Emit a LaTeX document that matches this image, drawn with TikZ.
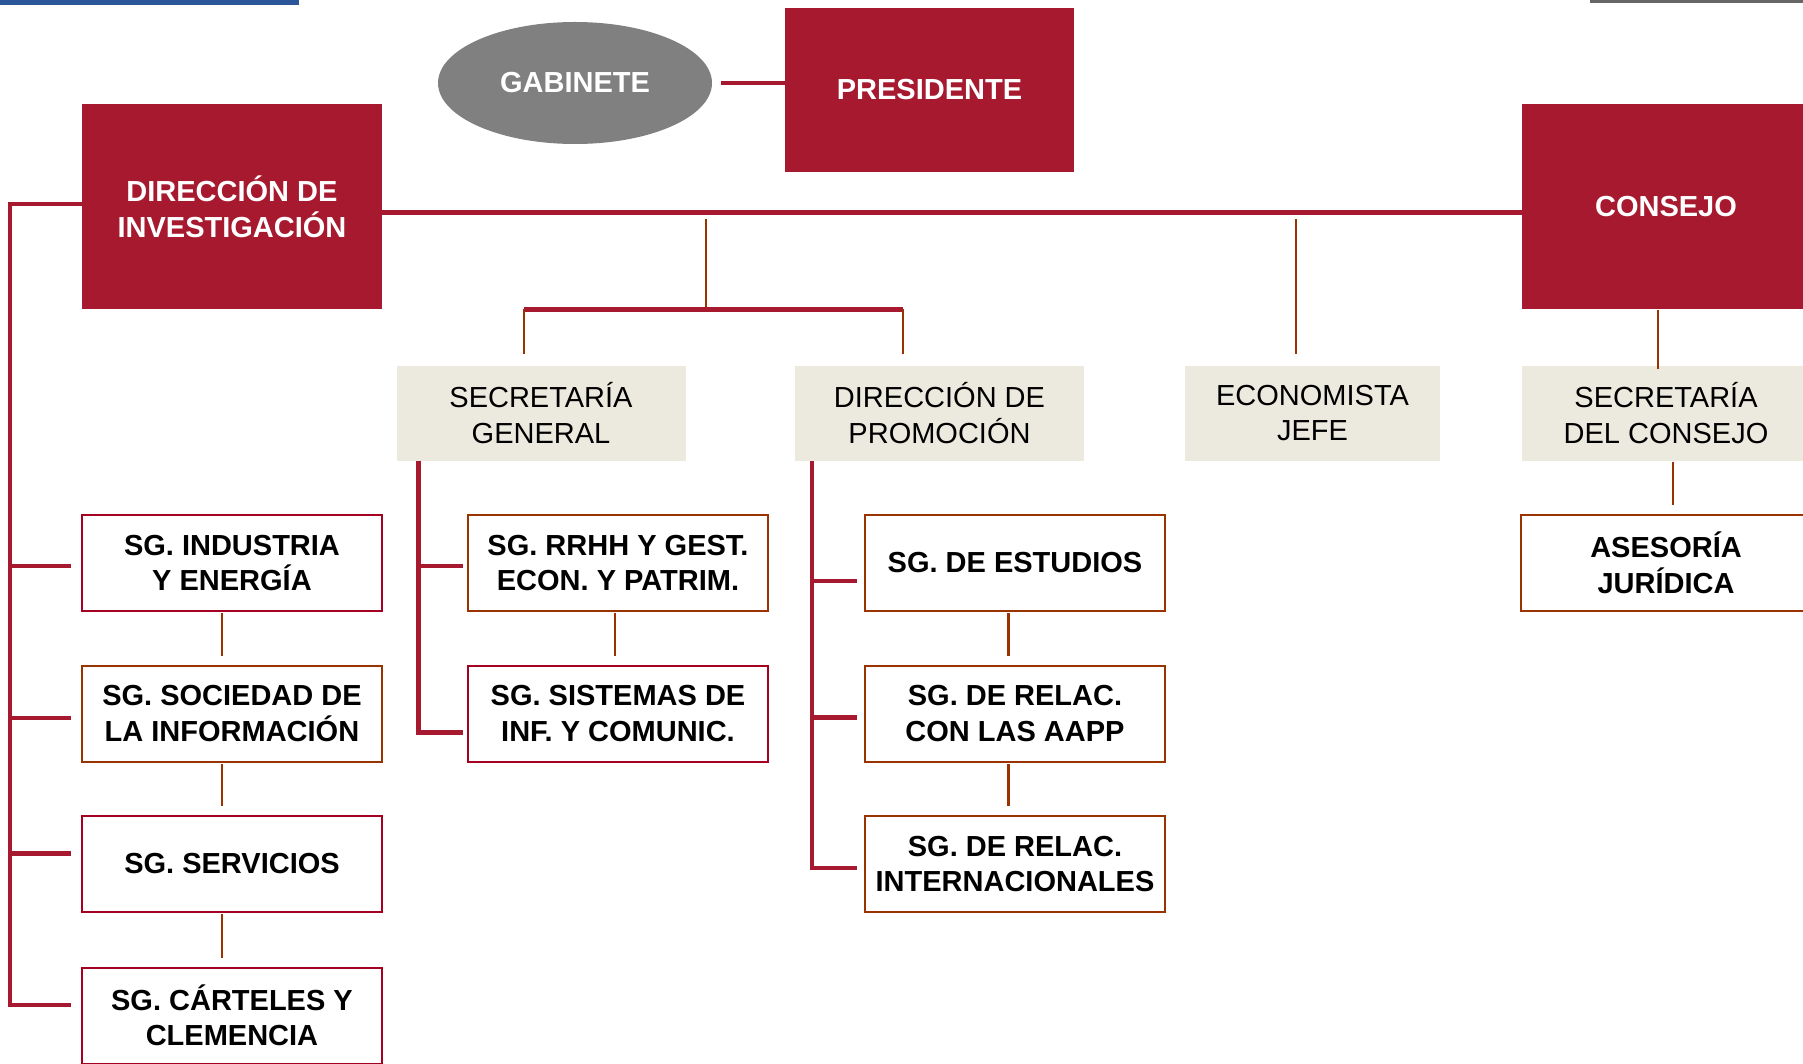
\documentclass[tikz,border=0pt]{standalone}
\usepackage{fontspec}
\setmainfont{Liberation Sans}
\usetikzlibrary{shapes.geometric,calc}
\definecolor{crim}{HTML}{A6192E}
\definecolor{crimb}{HTML}{A50021}
\definecolor{brn}{HTML}{993300}
\definecolor{beige}{HTML}{ECEADF}
\definecolor{gabgray}{HTML}{808080}
\definecolor{topblue}{HTML}{2B579A}
\definecolor{topgray}{HTML}{666666}
\begin{document}
\begin{tikzpicture}[x=1pt,y=-1pt,
  every node/.style={inner sep=0pt, align=center, font=\fontsize{29}{35.5}\selectfont},
  redbox/.style={rectangle, fill=crim, text=white, font=\fontsize{29}{35.5}\selectfont\bfseries},
  beigebox/.style={rectangle, fill=beige, text=black, minimum height=95pt},
  sgbox/.style={rectangle, draw=#1, line width=2pt, fill=white, text=black,
    font=\fontsize{29}{35.5}\selectfont\bfseries, minimum width=300pt, minimum height=96pt},
  thickl/.style={draw=crim, line width=5pt},
  busl/.style={draw=crim, line width=4.5pt},
  thinl/.style={draw=brn, line width=2.5pt}]
\useasboundingbox (0,0) rectangle (1803,1064);
\clip (0,0) rectangle (1803,1064);
\fill[white] (0,0) rectangle (1803,1064);
% top decorations
\fill[topblue] (0,0) rectangle (299,5);
\fill[topgray] (1590,0) rectangle (1803,3);
% head nodes
\node[ellipse, fill=gabgray, text=white, font=\fontsize{29}{35.5}\selectfont\bfseries,
  minimum width=274pt, minimum height=122pt] (gab) at (575,83) {GABINETE};
\node[redbox, minimum width=289pt, minimum height=164pt] (pres) at (929.5,90) {PRESIDENTE};
\node[redbox, minimum width=300pt, minimum height=205pt] (dinv) at (232,207) {DIRECCIÓN DE\\INVESTIGACIÓN};
\node[redbox, minimum width=288pt, minimum height=205pt] (cons) at (1666,207) {CONSEJO};
% beige nodes
\node[beigebox, minimum width=289pt] (sgen) at (541,413) {SECRETARÍA\\GENERAL};
\node[beigebox, minimum width=289pt] (dprom) at (939.5,413) {DIRECCIÓN DE\\PROMOCIÓN};
\node[beigebox, minimum width=255pt] (econ) at (1312.5,413) {ECONOMISTA\\JEFE};
\node[beigebox, minimum width=288pt] (scons) at (1666,413) {SECRETARÍA\\DEL CONSEJO};
% sub units
\node[sgbox=crimb] (ind) at (232,563) {SG. INDUSTRIA\\Y ENERGÍA};
\node[sgbox=brn] (soc) at (232,713.5) {SG. SOCIEDAD DE\\LA INFORMACIÓN};
\node[sgbox=crimb] (serv) at (232,864) {SG. SERVICIOS};
\node[sgbox=crimb] (cart) at (232,1015.5) {SG. CÁRTELES Y\\CLEMENCIA};
\node[sgbox=brn] (rrhh) at (618,563) {SG. RRHH Y GEST.\\ECON. Y PATRIM.};
\node[sgbox=crimb] (sist) at (618,713.5) {SG. SISTEMAS DE\\INF. Y COMUNIC.};
\node[sgbox=brn] (est) at (1015,563) {SG. DE ESTUDIOS};
\node[sgbox=brn] (aapp) at (1015,713.5) {SG. DE RELAC.\\CON LAS AAPP};
\node[sgbox=brn] (intl) at (1015,864) {SG. DE RELAC.\\INTERNACIONALES};
\node[sgbox=brn, minimum width=290pt] (ases) at (1666,563) {ASESORÍA\\JURÍDICA};
% coordinates
\coordinate (lx) at (10,0);
\coordinate (bI) at (71,566);
\coordinate (bS) at (71,718);
\coordinate (bV) at (71,853.5);
\coordinate (bC) at (71,1005);
\coordinate (mTop) at (706,219);
\coordinate (split) at (706,309.5);
\coordinate (sL) at (524,309.5);
\coordinate (sR) at (903,309.5);
\coordinate (eTop) at (1296,219);
\coordinate (gx) at (418.6,0);
\coordinate (gB1) at (463,566);
\coordinate (gB2) at (463,732.5);
\coordinate (px) at (812,0);
\coordinate (pB1) at (857,581);
\coordinate (pB2) at (857,717.5);
\coordinate (pB3) at (857,868);
% connectors
\draw[busl] ([xshift=9pt]gab.east) -- (gab.east -| pres.west);
\draw[thickl] ([yshift=-6pt]dinv.east) -- ([yshift=-6pt]cons.west);
\draw[busl] ([yshift=3pt]dinv.west) -| (bC -| lx) -- (bC);
\draw[busl] (bI -| lx) -- (bI);
\draw[busl] (bS -| lx) -- (bS);
\draw[busl] (bV -| lx) -- (bV);
\draw[thinl] (mTop) -- (split);
\draw[busl] (sL) -- (sR);
\draw[thinl] (sL) -- ($(sgen.north -| sL)+(0,-11)$);
\draw[thinl] (sR) -- ($(dprom.north -| sR)+(0,-11)$);
\draw[thinl] (eTop) -- ($(econ.north -| eTop)+(0,-11)$);
\draw[thinl] ($(cons.south)+(-8,0)$) -- ($(scons.north)+(-8,4)$);
\draw[thinl] ($(scons.south)+(7,1)$) -- ($(ases.north)+(7,-9)$);
\draw[busl] (sgen.south -| gx) |- (gB2);
\draw[busl] (gB1 -| gx) -- (gB1);
\draw[busl] (dprom.south -| px) |- (pB3);
\draw[busl] (pB1 -| px) -- (pB1);
\draw[busl] (pB2 -| px) -- (pB2);
\draw[thinl] ($(ind.south)+(-10,1)$) -- ($(soc.north)+(-10,-9)$);
\draw[thinl] ($(soc.south)+(-10,1)$) -- ($(serv.north)+(-10,-9)$);
\draw[thinl] ($(serv.south)+(-10,1)$) -- ($(cart.north)+(-10,-9)$);
\draw[thinl] ($(rrhh.south)+(-3,1)$) -- ($(sist.north)+(-3,-9)$);
\draw[thinl] ($(est.south)+(-6.4,1)$) -- ($(aapp.north)+(-6.4,-9)$);
\draw[thinl] ($(aapp.south)+(-6.4,1)$) -- ($(intl.north)+(-6.4,-9)$);
\end{tikzpicture}
\end{document}
